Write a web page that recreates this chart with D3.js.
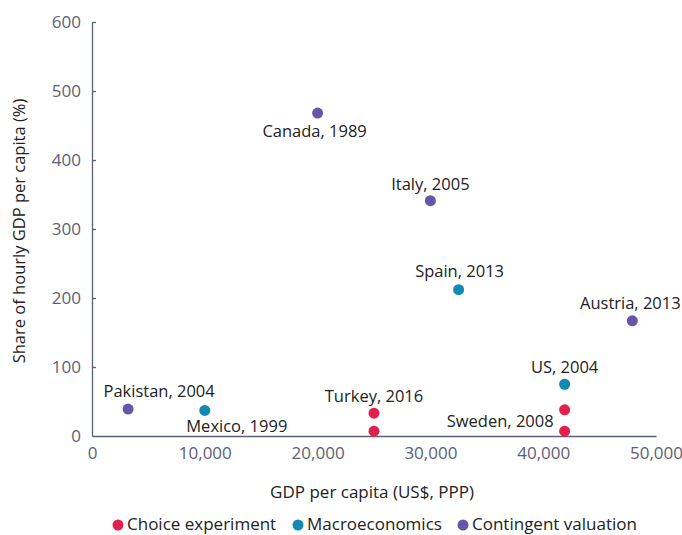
<!DOCTYPE html>
<html><head><meta charset="utf-8">
<script src="https://cdn.jsdelivr.net/npm/d3@7"></script>
<style>body{margin:0;background:#fff}svg{display:block}text{font-family:"Open Sans",sans-serif}</style>
</head><body><div id="c"></div>
<script>
const countries = ["Pakistan, 2004","Mexico, 1999","Turkey, 2016","Turkey, 2016","Sweden, 2008","Sweden, 2008","US, 2004","Spain, 2013","Austria, 2013","Italy, 2005","Canada, 1989"];
const gdp = [3200,10000,25000,25000,41900,41900,41900,32500,47900,30000,20000];
const share = [39,37,33,7,38,7,75,212,167,341,468];
const method = ["Contingent valuation","Macroeconomics","Choice experiment","Choice experiment","Choice experiment","Choice experiment","Macroeconomics","Macroeconomics","Contingent valuation","Contingent valuation","Contingent valuation"];
const showLabel = [true,true,true,false,false,true,true,true,true,true,true];
const methods = ["Choice experiment","Macroeconomics","Contingent valuation"];
const xTicks = [0,10000,20000,30000,40000,50000];
const yTicks = [0,100,200,300,400,500,600];
// label offsets (px) relative to point
const labelDx = [31,32,0,0,0,-11,0,1,-2,0,-3];
const labelDy = [-12,22,-11,0,0,-4,-11,-13,-12,-11,24];
const labelAnchor = ["middle","middle","middle","middle","middle","end","middle","middle","middle","middle","middle"];

const W=682,H=535;
const svg=d3.select("#c").append("svg").attr("width",W).attr("height",H);
const x=d3.scaleLinear().domain([0,50000]).range([92,656]);
const y=d3.scaleLinear().domain([0,600]).range([436,22]);
const color=d3.scaleOrdinal().domain(methods).range(["#e0204f","#118ab2","#6655a8"]);
const axisCol="#5b6174";

const ya=svg.append("g").attr("transform","translate(92,0)")
 .call(d3.axisLeft(y).tickValues(yTicks).tickSizeInner(-4).tickSizeOuter(0).tickPadding(11).tickFormat(d3.format("d")));
ya.selectAll("text").attr("fill",axisCol).style("font-size","17px");
ya.selectAll("line,path").attr("stroke",axisCol).attr("stroke-width",1.3);
ya.selectAll(".tick").filter(d=>d===0).select("line").remove();

const xa=svg.append("g").attr("transform","translate(0,436)")
 .call(d3.axisBottom(x).tickValues(xTicks).tickSize(0).tickPadding(11).tickFormat(d3.format(",")));
xa.selectAll("text").attr("fill",axisCol).style("font-size","17px");
xa.select(".domain").attr("stroke",axisCol).attr("stroke-width",1.3);

svg.append("text").attr("x",372).attr("y",498).attr("text-anchor","middle")
 .attr("fill","#222").style("font-size","17px").text("GDP per capita (US$, PPP)");
svg.append("text").attr("transform","translate(25,231) rotate(-90)").attr("text-anchor","middle")
 .attr("fill","#222").style("font-size","16.5px").text("Share of hourly GDP per capita (%)");

const idx=d3.range(gdp.length);
svg.append("g").selectAll("circle").data(idx).join("circle")
 .attr("cx",i=>x(gdp[i])).attr("cy",i=>y(share[i])).attr("r",5.5)
 .attr("fill",i=>color(method[i]));
svg.append("g").selectAll("text").data(idx.filter(i=>showLabel[i])).join("text")
 .attr("x",i=>x(gdp[i])+labelDx[i]).attr("y",i=>y(share[i])+labelDy[i])
 .attr("text-anchor",i=>labelAnchor[i]).attr("fill","#222").style("font-size","16.5px")
 .text(i=>countries[i]);

const leg=svg.append("g");
const legX=[127,307,472];
methods.forEach((m,i)=>{
  leg.append("circle").attr("cx",legX[i]-9).attr("cy",525).attr("r",5.5).attr("fill",color(m));
  leg.append("text").attr("x",legX[i]).attr("y",530).attr("fill","#222").style("font-size","17px").text(m);
});
</script></body></html>
